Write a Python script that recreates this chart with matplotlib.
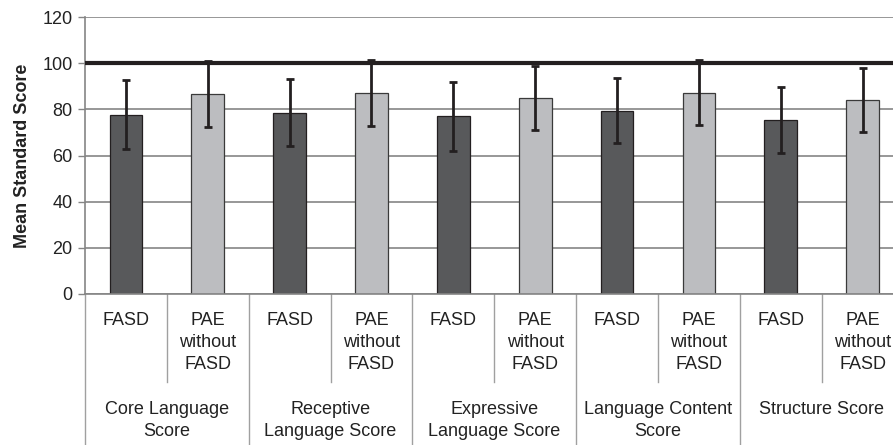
#!/usr/bin/env python3

import matplotlib
matplotlib.use('Agg')
import matplotlib.pyplot as plt
import matplotlib.transforms as mtransforms
import numpy as np

# data
groups = ['Core Language\nScore', 'Receptive\nLanguage Score', 'Expressive\nLanguage Score',
          'Language Content\nScore', 'Structure Score']
sub_labels = ['FASD', 'PAE\nwithout\nFASD']
fasd_mean = [77.7, 78.6, 76.9, 79.4, 75.3]
fasd_sd = [15.0, 14.4, 14.8, 14.0, 14.4]
pae_mean = [86.6, 86.9, 84.9, 87.1, 84.0]
pae_sd = [14.3, 14.3, 14.0, 14.1, 13.7]
norm_line = 100

plt.rcParams['font.family'] = ['Liberation Sans', 'DejaVu Sans']

W, H = 893, 445
fig = plt.figure(figsize=(W / 100, H / 100), dpi=100)
left, top, bottom = 85, 17, 294
ax = fig.add_axes([left / W, 1 - bottom / H, 1 - left / W, (bottom - top) / H])

n = len(groups)
x_fasd = np.arange(n) * 2
x_pae = x_fasd + 1
bw = 0.4
dark = '#58595b'
light = '#bcbdc0'
ink = '#231f20'
grid = '#858585'

ax.set_axisbelow(True)
ax.bar(x_fasd, fasd_mean, bw, color=dark, edgecolor=ink, linewidth=0.9, zorder=2)
ax.bar(x_pae, pae_mean, bw, color=light, edgecolor='#3a3a3a', linewidth=0.9, zorder=2)
ax.errorbar(x_fasd, fasd_mean, yerr=fasd_sd, fmt='none', ecolor=ink, elinewidth=2,
            capsize=3, capthick=2, zorder=4)
ax.errorbar(x_pae, pae_mean, yerr=pae_sd, fmt='none', ecolor=ink, elinewidth=2,
            capsize=3, capthick=2, zorder=4)
ax.axhline(norm_line, color=ink, linewidth=3, zorder=3)

slot = 81.85
ax.set_xlim(-0.5, -0.5 + (W - left) / slot)
ax.set_ylim(0, 120)
ax.set_yticks(np.arange(0, 121, 20))
ax.yaxis.grid(True, color=grid, linewidth=1.2)
ax.set_xticks([])
ax.tick_params(axis='y', length=5, width=1, color=grid, labelsize=13, pad=4,
               labelcolor='#222222')
for s in ['top', 'right']:
    ax.spines[s].set_visible(False)
for s in ['left', 'bottom']:
    ax.spines[s].set_color(grid)
    ax.spines[s].set_linewidth(1.2)

ax.set_ylabel('Mean Standard Score', fontsize=13, fontweight='bold', labelpad=8,
              color='#222222')

# two-level category axis below the plot
trans = mtransforms.blended_transform_factory(ax.transData, ax.transAxes)
ah = bottom - top
inner_bot = (bottom - 382) / ah
outer_bot = (bottom - H) / ah
for i in range(n):
    ax.plot([x_fasd[i] + 0.5] * 2, [0, inner_bot], color='#a0a0a0', lw=1,
            transform=trans, clip_on=False)
    ax.plot([x_fasd[i] - 0.5] * 2, [0, outer_bot], color='#a0a0a0', lw=1,
            transform=trans, clip_on=False)
    for xx, lab in zip([x_fasd[i], x_pae[i]], sub_labels):
        ax.text(xx, (bottom - 312) / ah, lab, transform=trans, ha='center', va='top',
                fontsize=13, color='#222222', linespacing=1.38)
    ax.text(x_fasd[i] + 0.5, (bottom - 401) / ah, groups[i], transform=trans,
            ha='center', va='top', fontsize=13, color='#222222', linespacing=1.38)

fig.savefig('out.png', dpi=100)
